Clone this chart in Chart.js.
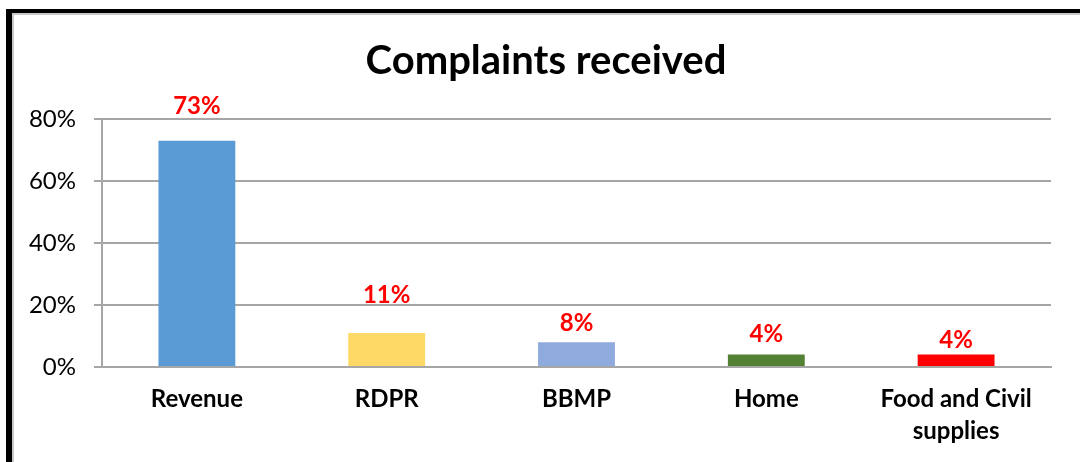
<!DOCTYPE html>
<html>
<head>
<meta charset="utf-8">
<script src="https://cdn.jsdelivr.net/npm/chart.js@4/dist/chart.umd.min.js"></script>
<style>
  body { margin: 0; background: #fff; }
  #wrap { position: relative; width: 1080px; height: 462px; overflow: hidden; }
  #frame { position: absolute; left: 6px; top: 9px; width: 1100px; height: 500px;
           border-left: 6px solid #000; border-top: 4px solid #000; }
  #inner { position: absolute; left: 12px; top: 13px; width: 1066px; height: 500px;
           border-left: 2px solid #c8c8c8; border-top: 2px solid #c8c8c8; border-right: 2px solid #e4e4e4; }
  canvas { position: absolute; left: 0; top: 0; }
</style>
</head>
<body>
<div id="wrap">
  <div id="frame"></div>
  <div id="inner"></div>
  <canvas id="chart" width="1080" height="462"></canvas>
</div>
<script>
"use strict";

// chart data
const categories = ['Revenue', 'RDPR', 'BBMP', 'Home', ['Food and Civil', 'supplies']];
const complaints = [0.73, 0.11, 0.08, 0.04, 0.04];
const barColors = ['#5b9bd5', '#ffd966', '#8faadc', '#548235', '#ff0000'];
const yTicks = [0, 0.2, 0.4, 0.6, 0.8];
const chartTitle = 'Complaints received';

const FONT = 'Lato, "Open Sans", sans-serif';

// draws the red % labels above each bar
const valueLabels = {
  id: 'valueLabels',
  afterDatasetsDraw(chart, args, opts) {
    const ctx = chart.ctx;
    const meta = chart.getDatasetMeta(0);
    ctx.save();
    ctx.font = 'bold 24px ' + FONT;
    ctx.fillStyle = '#ff0000';
    ctx.textAlign = 'center';
    ctx.textBaseline = 'alphabetic';
    meta.data.forEach((bar, i) => {
      const v = chart.data.datasets[0].data[i];
      ctx.fillText(Math.round(v * 100) + '%', bar.x, bar.y - opts.gap[i]);
    });
    ctx.restore();
  }
};

// title drawn by hand, the excel one is not centred on the canvas
const topTitle = {
  id: 'topTitle',
  afterDraw(chart, args, opts) {
    const ctx = chart.ctx;
    ctx.save();
    ctx.font = 'bold 40px ' + FONT;
    ctx.fillStyle = '#000';
    ctx.textAlign = 'center';
    ctx.textBaseline = 'alphabetic';
    ctx.fillText(opts.text, opts.x, opts.y);
    ctx.restore();
  }
};

const chart = new Chart(document.getElementById('chart'), {
  type: 'bar',
  data: {
    labels: categories,
    datasets: [{
      data: complaints,
      backgroundColor: barColors,
      categoryPercentage: 1,
      barPercentage: 0.405
    }]
  },
  options: {
    responsive: false,
    animation: false,
    layout: { padding: { left: 20, right: 29, top: 119, bottom: 0 } },
    plugins: {
      legend: { display: false },
      tooltip: { enabled: false },
      title: { display: false },
      topTitle: { text: chartTitle, x: 546, y: 74 },
      valueLabels: { gap: [27, 30, 11, 13, 7] }
    },
    scales: {
      x: {
        grid: { display: false, drawTicks: false },
        border: { display: true, color: '#a6a6a6', width: 2 },
        ticks: {
          color: '#000',
          padding: 16,
          maxRotation: 0,
          font: { family: FONT, size: 24, weight: 'bold', lineHeight: 1.33 }
        },
        afterFit(scale) { scale.height = 95; }
      },
      y: {
        min: 0,
        max: 0.8,
        afterBuildTicks(scale) { scale.ticks = yTicks.map(v => ({ value: v })); },
        grid: { color: '#a6a6a6', lineWidth: 2, tickLength: 8 },
        border: { display: true, color: '#a6a6a6', width: 2 },
        ticks: {
          color: '#000',
          padding: 18,
          font: { family: FONT, size: 24 },
          callback: v => Math.round(v * 100) + '%'
        },
        afterFit(scale) { scale.width = 82; }
      }
    }
  },
  plugins: [valueLabels, topTitle]
});
</script>
</body>
</html>
